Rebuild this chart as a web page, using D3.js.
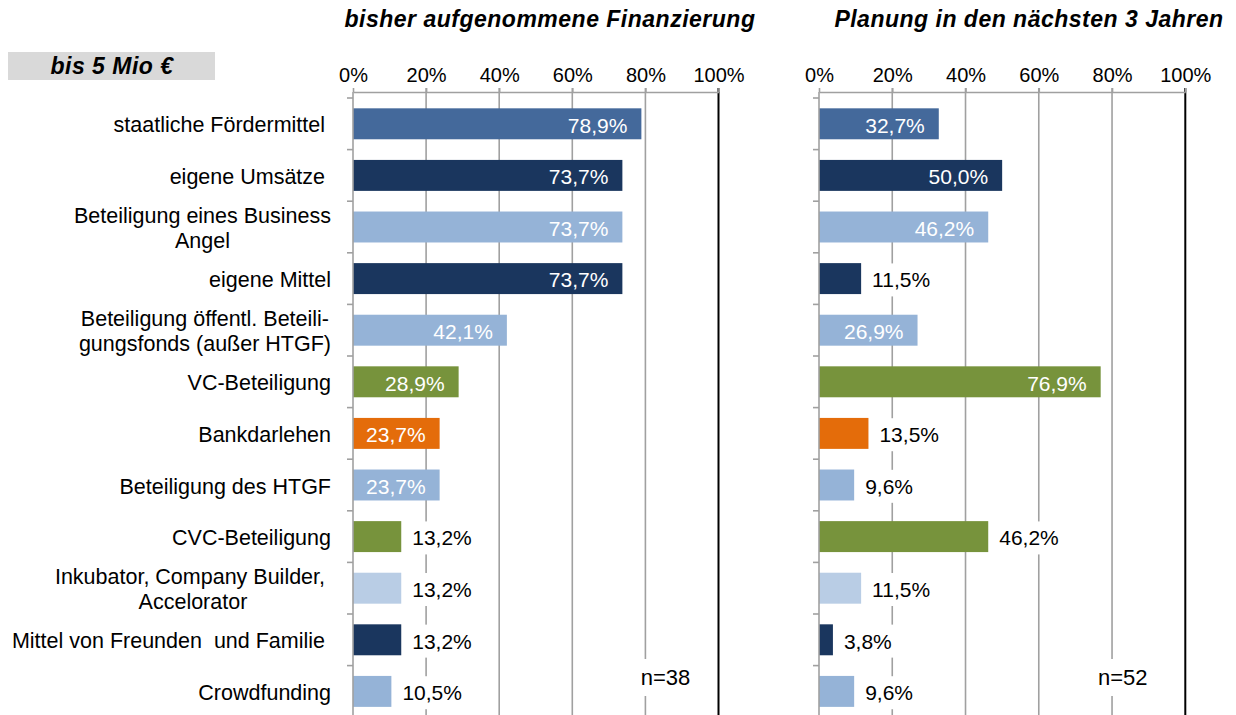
<!DOCTYPE html>
<html>
<head>
<meta charset="utf-8">
<script src="https://cdn.jsdelivr.net/npm/d3@7"></script>
<style>
  body { margin: 0; background: #fff; }
  svg text { font-family: "Liberation Sans", Arial, sans-serif; white-space: pre; }
</style>
</head>
<body>
<svg id="chart" width="1236" height="715"></svg>
<script>
// data
const categories = [
  "staatliche Fördermittel ",
  "eigene Umsätze ",
  "Beteiligung eines Business\nAngel",
  "eigene Mittel",
  "Beteiligung öffentl. Beteili-\ngungsfonds (außer HTGF)",
  "VC-Beteiligung",
  "Bankdarlehen",
  "Beteiligung des HTGF",
  "CVC-Beteiligung",
  "Inkubator, Company Builder, \nAccelorator",
  "Mittel von Freunden  und Familie ",
  "Crowdfunding"
];
const bisherValues = [78.9, 73.7, 73.7, 73.7, 42.1, 28.9, 23.7, 23.7, 13.2, 13.2, 13.2, 10.5];
const planungValues = [32.7, 50.0, 46.2, 11.5, 26.9, 76.9, 13.5, 9.6, 46.2, 11.5, 3.8, 9.6];
const bisherLabelInside = [1, 1, 1, 1, 1, 1, 1, 1, 0, 0, 0, 0];
const planungLabelInside = [1, 1, 1, 0, 1, 1, 0, 0, 0, 0, 0, 0];
const barColors = ["#44699b", "#1a365e", "#95b3d7", "#1a365e", "#95b3d7", "#77933c",
                   "#e46c0a", "#95b3d7", "#77933c", "#b9cde5", "#1a365e", "#95b3d7"];
const xTicks = [0, 20, 40, 60, 80, 100];
const panelTitles = ["bisher aufgenommene Finanzierung", "Planung in den nächsten 3 Jahren"];
const sampleSizes = [38, 52];
const groupLabel = "bis 5 Mio €";

const svg = d3.select("#chart");
const fmt = v => d3.format(".1f")(v).replace(".", ",") + "%";

const y = d3.scaleBand()
  .domain(categories)
  .range([98, 98 + 51.6 * 12])
  .paddingInner(0.4)
  .paddingOuter(0.2);

// group box top left
svg.append("rect").attr("x", 8).attr("y", 52).attr("width", 207).attr("height", 28)
  .attr("fill", "#d9d9d9");
svg.append("text").attr("x", 112).attr("y", 74).attr("text-anchor", "middle")
  .attr("font-size", 23).attr("font-weight", "bold").attr("font-style", "italic")
  .attr("letter-spacing", 0.5).text(groupLabel);

// category labels
const catG = svg.append("g");
categories.forEach(c => {
  const lines = c.split("\n");
  const cy = y(c) + y.bandwidth() / 2;
  const t = catG.append("text").attr("font-size", 21.5).attr("fill", "#000");
  const lh = 25;
  const y0 = cy - (lines.length - 1) * lh / 2;
  lines.forEach((ln, i) => {
    t.append("tspan").attr("y", y0 + i * lh).attr("dy", "0.4em").text(ln);
  });
  if (lines.length === 1) {
    t.attr("text-anchor", "end").selectAll("tspan").attr("x", 331);
  } else {
    let maxW = 0;
    t.selectAll("tspan").each(function () { maxW = Math.max(maxW, this.getComputedTextLength()); });
    t.attr("text-anchor", "middle").selectAll("tspan").attr("x", 331 - maxW / 2);
  }
});

const panels = [
  { x0: 353, x1: 718.5, values: bisherValues, inside: bisherLabelInside, titleX: 550, nX: 665.5 },
  { x0: 819, x1: 1185.3, values: planungValues, inside: planungLabelInside, titleX: 1029, nX: 1122.7 }
];

panels.forEach((p, pi) => {
  const x = d3.scaleLinear().domain([0, 100]).range([p.x0, p.x1]);
  const g = svg.append("g");

  // title
  g.append("text").attr("x", p.titleX).attr("y", 27).attr("text-anchor", "middle")
    .attr("font-size", 23).attr("font-weight", "bold").attr("font-style", "italic")
    .attr("letter-spacing", 0.5).text(panelTitles[pi]);

  // gridlines
  g.selectAll("line.grid").data(xTicks.slice(1)).join("line")
    .attr("x1", d => x(d)).attr("x2", d => x(d))
    .attr("y1", 88).attr("y2", 720)
    .attr("stroke", d => d === 100 ? "#000" : "#a0a0a0")
    .attr("stroke-width", d => d === 100 ? 2 : 1.6);

  // top axis
  const axisTop = d3.axisTop(x).tickValues(xTicks).tickFormat(d => d + "%")
    .tickSizeInner(4).tickSizeOuter(0).tickPadding(6);
  const ag = g.append("g").attr("transform", "translate(0,92)").call(axisTop);
  ag.select(".domain").attr("stroke", "#a0a0a0").attr("stroke-width", 1.6);
  ag.selectAll(".tick line").attr("stroke", "#a0a0a0").attr("stroke-width", 1.6);
  ag.selectAll(".tick text").attr("font-size", 20).attr("fill", "#000")
    .attr("font-family", "Liberation Sans, Arial, sans-serif").attr("y", -10.5).attr("dy", 0);

  // bars
  g.selectAll("rect.bar").data(p.values).join("rect")
    .attr("x", x(0))
    .attr("y", (d, i) => y(categories[i]))
    .attr("width", d => x(d) - x(0))
    .attr("height", y.bandwidth())
    .attr("fill", (d, i) => barColors[i]);

  // left axis with category ticks
  g.append("line").attr("x1", x(0)).attr("x2", x(0)).attr("y1", 92).attr("y2", 720)
    .attr("stroke", "#a0a0a0").attr("stroke-width", 1.6);
  const bounds = d3.range(13).map(k => y.range()[0] + k * y.step());
  g.selectAll("line.ctick").data(bounds).join("line")
    .attr("x1", x(0) - 6).attr("x2", x(0)).attr("y1", d => d).attr("y2", d => d)
    .attr("stroke", "#a0a0a0").attr("stroke-width", 1.6);

  // value labels
  p.values.forEach((v, i) => {
    const cy = y(categories[i]) + y.bandwidth() / 2;
    if (p.inside[i]) {
      g.append("text").attr("x", x(v) - 14).attr("y", cy).attr("dy", "0.42em")
        .attr("text-anchor", "end").attr("font-size", 21).attr("fill", "#fff").text(fmt(v));
    } else {
      const t = g.append("text").attr("x", x(v) + 11).attr("y", cy).attr("dy", "0.42em")
        .attr("text-anchor", "start").attr("font-size", 21).attr("fill", "#000").text(fmt(v));
      const bb = t.node().getBBox();
      g.insert("rect", () => t.node())
        .attr("x", bb.x - 4).attr("y", bb.y - 5).attr("width", bb.width + 8).attr("height", bb.height + 10)
        .attr("fill", "#fff");
    }
  });

  // sample size
  const nt = g.append("text").attr("x", p.nX).attr("y", 685).attr("text-anchor", "middle")
    .attr("font-size", 22).attr("fill", "#000").text("n=" + sampleSizes[pi]);
  const nb = nt.node().getBBox();
  g.insert("rect", () => nt.node())
    .attr("x", nb.x - 4).attr("y", nb.y - 6).attr("width", nb.width + 8).attr("height", nb.height + 12)
    .attr("fill", "#fff");
});
</script>
</body>
</html>
